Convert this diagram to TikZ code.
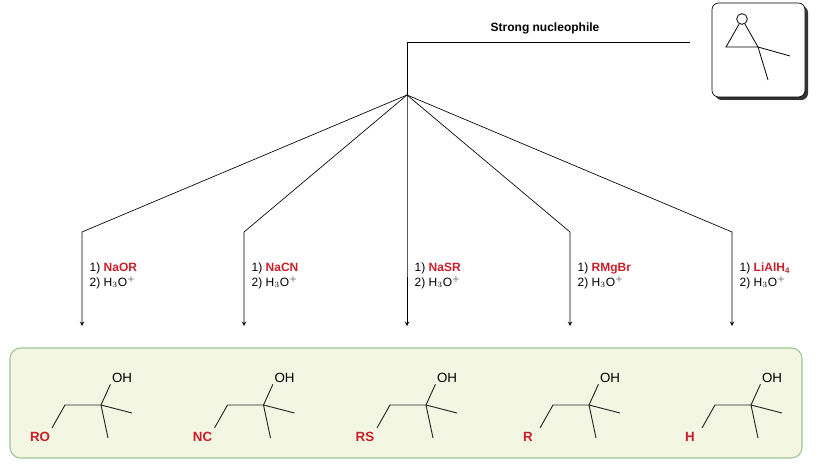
\documentclass[tikz,border=0pt]{standalone}
\usepackage{fontspec}
\setmainfont{Liberation Sans}
\usetikzlibrary{positioning}
\usetikzlibrary{arrows}
\definecolor{nured}{HTML}{C8202A}
\definecolor{boxgreen}{HTML}{F2F6E3}
\definecolor{edgegreen}{HTML}{9CC591}
\tikzset{
  reagent/.style={font=\fontsize{9}{11}\selectfont, align=left, anchor=west},
  atom/.style={font=\fontsize{10}{12}\selectfont, inner sep=1pt},
  bond/.style={line width=0.7pt, gray!30!black}
}
% one product: shift and substituent label
\newcommand{\prodmol}[3]{%
  \begin{scope}[shift={(#1,0)}]
    \node[atom, text=nured, font=\fontsize{10}{12}\selectfont\bfseries] (sub#3) at (40,437) {#2};
    \node[atom] (oh#3) at (122,378) {OH};
    \coordinate (ch#3) at (65,405);
    \coordinate (cq#3) at (101,405);
    \draw[bond] (52,428) -- (ch#3) -- (cq#3) -- (oh#3.south west);
    \draw[bond] (cq#3) -- (132,413);
    \draw[bond] (cq#3) -- (108,438);
  \end{scope}}
\begin{document}
\begin{tikzpicture}[x=0.75pt,y=-0.75pt]
\useasboundingbox (0,0) rectangle (820,466);
% epoxide reagent box
\fill[black!80, rounded corners=5] (715,6) rectangle (808,100);
\draw[fill=white, rounded corners=5, line width=0.5pt] (712,3) rectangle (805,97);
\node[draw, circle, minimum size=8pt, inner sep=0pt, line width=0.6pt] (ox) at (742,19) {};
\coordinate (cl) at (726,47);
\coordinate (cr) at (758,47);
\draw[line width=0.6pt] (ox) -- (cl) -- (cr) -- (ox);
\draw[line width=0.6pt] (cr) -- (790,56);
\draw[line width=0.6pt] (cr) -- (768,80);
% header line
\node[font=\fontsize{9}{11}\selectfont\bfseries] (head) at (545,28) {Strong nucleophile};
\coordinate (hr) at (690,42);
\coordinate (hl) at (407,42);
\coordinate (br) at (407,95);
\draw[line width=0.5pt] (hr) -- (hl) -- (br);
% branches
\foreach \x/\nu [count=\i] in {82/NaOR, 244/NaCN, 407/NaSR, 570/RMgBr, 732/{LiAlH$_\mathbf{4}$}}{
  \coordinate (k\i) at (\x,232);
  \coordinate (e\i) at (\x,326);
  \draw[line width=0.5pt, -stealth] (br) -- (k\i) -- (e\i);
  \node[reagent] (r\i) at (\x+3,276) {1) \textcolor{nured}{\textbf{\nu}}\\2) H$_3$O$^+$};
}
% products
\draw[fill=boxgreen, draw=edgegreen, rounded corners=8, line width=0.8pt] (10,348) rectangle (802,458);
\prodmol{0}{RO}{1}
\prodmol{162.5}{NC}{2}
\prodmol{325}{RS}{3}
\prodmol{488}{R}{4}
\prodmol{650}{H}{5}
\end{tikzpicture}
\end{document}
